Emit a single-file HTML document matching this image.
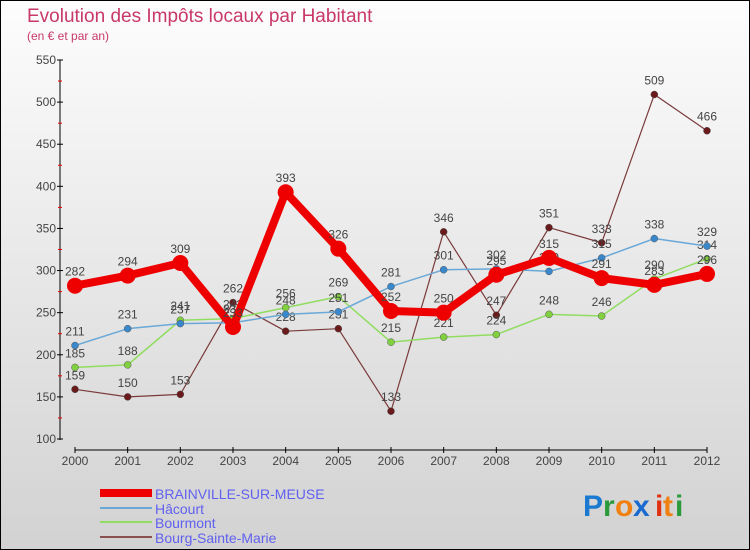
<!DOCTYPE html>
<html><head><meta charset="utf-8"><style>
body{margin:0;width:750px;height:550px;overflow:hidden}
svg{display:block;font-family:"Liberation Sans",sans-serif}
</style></head><body>
<svg id="c" width="750" height="550" viewBox="0 0 750 550" xmlns="http://www.w3.org/2000/svg">
<defs><linearGradient id="bg" x1="0" y1="0" x2="0" y2="1"><stop offset="0" stop-color="#fdfdfd"/><stop offset="1" stop-color="#d2d2d2"/></linearGradient></defs>
<rect x="0.5" y="0.5" width="749" height="549" fill="url(#bg)" stroke="#000"/>
<text x="27" y="22" font-size="19" fill="#c8386a">Evolution des Impôts locaux par Habitant</text>
<text x="27" y="40" font-size="12" fill="#c8386a">(en € et par an)</text>
<g id="axes"></g>
<g id="series"></g>
<g>
<rect x="100" y="489" width="52" height="8" fill="#e00"/>
<text x="155" y="499" font-size="14" fill="#6060f0">BRAINVILLE-SUR-MEUSE</text>
<rect x="100" y="507" width="52" height="2" fill="#6aa8d8"/>
<text x="155" y="514" font-size="14" fill="#6060f0">Hâcourt</text>
<rect x="100" y="521" width="52" height="2" fill="#90dd60"/>
<text x="155" y="528" font-size="14" fill="#6060f0">Bourmont</text>
<rect x="100" y="536" width="52" height="2" fill="#8a5050"/>
<text x="155" y="543" font-size="14" fill="#6060f0">Bourg-Sainte-Marie</text>
</g>
<g font-size="30" font-weight="bold">
<text x="583" y="516" fill="#1a7ad0">P</text><text x="603" y="516" fill="#2a9a3a">r</text><text x="615" y="516" fill="#f08010">o</text><text x="633" y="516" fill="#1a6ad0">x</text><text x="655" y="516" fill="#e03010">i</text><text x="663" y="516" fill="#f08010">t</text><text x="675" y="516" fill="#2a9a3a">i</text>
</g>
</svg>
<script>
const years=[2000,2001,2002,2003,2004,2005,2006,2007,2008,2009,2010,2011,2012];
const yTicks=[100,150,200,250,300,350,400,450,500,550];
const brainville=[282,294,309,233,393,326,252,250,295,315,291,283,296];
const hacourt=[211,231,237,238,248,251,281,301,302,299,315,338,329];
const bourmont=[185,188,241,243,256,269,215,221,224,248,246,290,314];
const bourg=[159,150,153,262,228,231,133,346,247,351,333,509,466];
const NS="http://www.w3.org/2000/svg";
const xs=i=>75+i*(707-75)/12;
const ys=v=>439-(v-100)*(379/450);
function mk(t,a,p){const e=document.createElementNS(NS,t);for(const k in a)e.setAttribute(k,a[k]);p.appendChild(e);return e;}
const ax=document.getElementById('axes');
let yl=mk('line',{x1:60,y1:60,x2:60,y2:440,stroke:'#000'},ax);


yTicks.forEach((v,i)=>{
  mk('line',{x1:57,y1:ys(v),x2:63,y2:ys(v),stroke:'#000'},ax);
  if(i<yTicks.length-1)mk('line',{x1:58,y1:ys(v+25),x2:62,y2:ys(v+25),stroke:'#e00'},ax);
  const t=mk('text',{x:56,y:ys(v)+4,'font-size':12,'text-anchor':'end',fill:'#444'},ax);
  
  
  t.textContent=v;
});
let xl=mk('line',{x1:75,y1:450,x2:707,y2:450,stroke:'#000'},ax);


years.forEach((y,i)=>{
  mk('line',{x1:xs(i),y1:447,x2:xs(i),y2:453,stroke:'#000'},ax);
  const t=mk('text',{x:xs(i),y:465,'font-size':12,'text-anchor':'middle',fill:'#444'},ax);
  
  
  t.textContent=y;
});
const sg=document.getElementById('series');
function draw(data,name,color,w,r,dot){
  const g=mk('g',{},sg);
  
  
  const pl=mk('polyline',{points:data.map((v,i)=>xs(i)+','+ys(v)).join(' '),fill:'none',stroke:color,'stroke-width':w,'stroke-linejoin':'round'},g);
  
  
  data.forEach((v,i)=>{
    const c=mk('circle',{cx:xs(i),cy:ys(v),r:r,fill:dot,stroke:dot==='#e00'?'none':'#555','stroke-width':0.5},g);
    
    
    const t=mk('text',{x:xs(i),y:ys(v)-10,'font-size':12,'text-anchor':'middle',fill:'#444'},g);
    
    
    t.textContent=v;
  });
}
draw(bourg,'bourg-sainte-marie','#7a3a3a',1.2,3.5,'#6a1a1a');
draw(bourmont,'bourmont','#90dd60',1.5,3.5,'#80d040');
draw(hacourt,'hacourt','#6aa8d8',1.5,3.5,'#3a88cc');
draw(brainville,'brainville-sur-meuse','#e00',8,8,'#e00');
</script>
</body></html>
